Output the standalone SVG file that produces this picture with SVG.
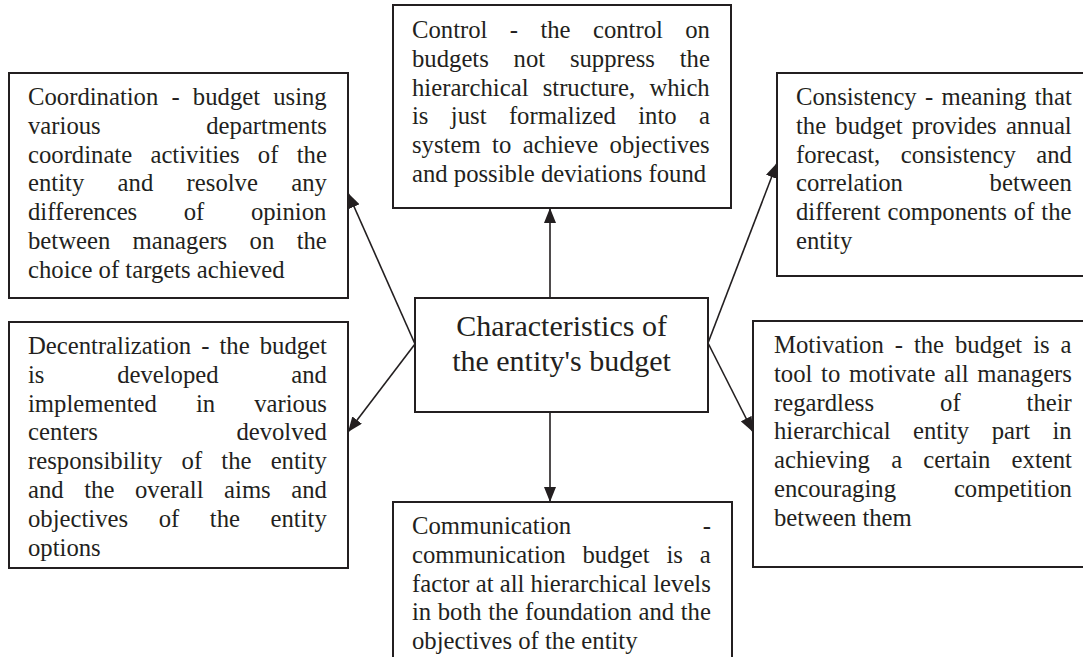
<svg xmlns="http://www.w3.org/2000/svg" width="1083" height="657" viewBox="0 0 1083 657">
<style>
.box{fill:#fff;stroke:#231f20;stroke-width:2}
.t{font-family:"Liberation Serif","Times New Roman",serif;font-size:24.7px;fill:#231f20}
.c{font-family:"Liberation Serif","Times New Roman",serif;font-size:30px;fill:#231f20;text-anchor:middle}
.con{stroke:#231f20;stroke-width:1.6;fill:none;marker-end:url(#ah)}
</style>
<defs>
<marker id="ah" markerUnits="userSpaceOnUse" markerWidth="15" markerHeight="12" refX="15" refY="6" orient="auto">
<path d="M0,0 L15,6 L0,12 z" fill="#231f20"/>
</marker>
</defs>
<rect width="1083" height="657" fill="#fff"/>
<g id="connectors">
<line class="con" x1="550" y1="298" x2="550" y2="208"/>
<line class="con" x1="550" y1="412" x2="550" y2="502"/>
<line class="con" x1="415" y1="344" x2="348" y2="193"/>
<line class="con" x1="415" y1="344" x2="348" y2="432"/>
<line class="con" x1="708" y1="343" x2="777" y2="163"/>
<line class="con" x1="708" y1="343" x2="753" y2="432"/>
</g>
<g id="control">
<rect class="box" x="393" y="5" width="338" height="203"/>
<text class="t" x="412" y="38" word-spacing="16.2">Control - the control on</text>
<text class="t" x="412" y="66.8" word-spacing="18.6">budgets not suppress the</text>
<text class="t" x="412" y="95.6" word-spacing="8">hierarchical structure, which</text>
<text class="t" x="412" y="124.4" word-spacing="16.2">is just formalized into a</text>
<text class="t" x="412" y="153.2" word-spacing="5.3">system to achieve objectives</text>
<text class="t" x="412" y="182">and possible deviations found</text>
</g>
<g id="coordination">
<rect class="box" x="9" y="73" width="339" height="225"/>
<text class="t" x="28" y="105" word-spacing="7">Coordination - budget using</text>
<text class="t" x="28" y="133.8" word-spacing="99.4">various departments</text>
<text class="t" x="28" y="162.6" word-spacing="12.1">coordinate activities of the</text>
<text class="t" x="28" y="191.4" word-spacing="27.2">entity and resolve any</text>
<text class="t" x="28" y="220.2" word-spacing="40.4">differences of opinion</text>
<text class="t" x="28" y="249" word-spacing="16.2">between managers on the</text>
<text class="t" x="28" y="277.8">choice of targets achieved</text>
</g>
<g id="consistency">
<rect class="box" x="777" y="73" width="310" height="203"/>
<text class="t" x="796" y="105" word-spacing="2.1">Consistency - meaning that</text>
<text class="t" x="796" y="133.8" word-spacing="3">the budget provides annual</text>
<text class="t" x="796" y="162.6" word-spacing="14.2">forecast, consistency and</text>
<text class="t" x="796" y="191.4" word-spacing="80.5">correlation between</text>
<text class="t" x="796" y="220.2" word-spacing="0.8">different components of the</text>
<text class="t" x="796" y="249">entity</text>
</g>
<g id="center">
<rect class="box" x="415" y="298" width="293" height="114"/>
<text class="c" x="561.5" y="336">Characteristics of</text>
<text class="c" x="561.5" y="371">the entity's budget</text>
</g>
<g id="decentralization">
<rect class="box" x="9" y="322" width="339" height="246"/>
<text class="t" x="28" y="354" word-spacing="3.9">Decentralization - the budget</text>
<text class="t" x="28" y="382.8" word-spacing="66.5">is developed and</text>
<text class="t" x="28" y="411.6" word-spacing="32.9">implemented in various</text>
<text class="t" x="28" y="440.4" word-spacing="132.3">centers devolved</text>
<text class="t" x="28" y="469.2" word-spacing="13">responsibility of the entity</text>
<text class="t" x="28" y="498" word-spacing="14.4">and the overall aims and</text>
<text class="t" x="28" y="526.8" word-spacing="24.4">objectives of the entity</text>
<text class="t" x="28" y="555.6">options</text>
</g>
<g id="motivation">
<rect class="box" x="753" y="321" width="334" height="246"/>
<text class="t" x="774" y="353" word-spacing="4.8">Motivation - the budget is a</text>
<text class="t" x="774" y="381.8" word-spacing="2.5">tool to motivate all managers</text>
<text class="t" x="774" y="410.6" word-spacing="59.8">regardless of their</text>
<text class="t" x="774" y="439.4" word-spacing="16.3">hierarchical entity part in</text>
<text class="t" x="774" y="468.2" word-spacing="15">achieving a certain extent</text>
<text class="t" x="774" y="497" word-spacing="51.7">encouraging competition</text>
<text class="t" x="774" y="525.8">between them</text>
</g>
<g id="communication">
<rect class="box" x="393" y="502" width="339" height="170"/>
<text class="t" x="412" y="534" word-spacing="125.4">Communication -</text>
<text class="t" x="412" y="562.8" word-spacing="10.7">communication budget is a</text>
<text class="t" x="412" y="591.6">factor at all hierarchical levels</text>
<text class="t" x="412" y="620.4" word-spacing="0.4">in both the foundation and the</text>
<text class="t" x="412" y="649.2">objectives of the entity</text>
</g>
</svg>
